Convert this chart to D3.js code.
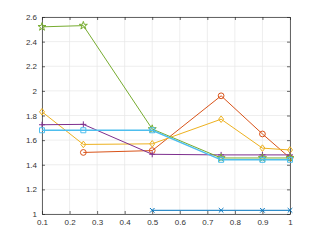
<!DOCTYPE html>
<html lang="en">
<head>
<meta charset="UTF-8">
<title>Chart</title>
<script src="https://d3js.org/d3.v7.min.js"></script>
<style>
  body { margin: 0; background: #fff; }
  svg text { font-family: "Liberation Sans", Arial, sans-serif; font-size: 8px; fill: #333; }
</style>
</head>
<body>
<div id="chart"></div>
<script>
const xTicks = [0.1, 0.2, 0.3, 0.4, 0.5, 0.6, 0.7, 0.8, 0.9, 1];
const yTicks = [1, 1.2, 1.4, 1.6, 1.8, 2, 2.2, 2.4, 2.6];

const blueX = [0.5, 0.75, 0.9, 1];
const blueY = [1.03, 1.03, 1.03, 1.03];
const orangeX = [0.25, 0.5, 0.75, 0.9, 1];
const orangeY = [1.50, 1.515, 1.96, 1.65, 1.455];
const yellowX = [0.1, 0.25, 0.5, 0.75, 0.9, 1];
const yellowY = [1.83, 1.565, 1.57, 1.77, 1.535, 1.52];
const purpleX = [0.1, 0.25, 0.5, 0.75, 0.9, 1];
const purpleY = [1.725, 1.728, 1.485, 1.48, 1.48, 1.48];
const greenX = [0.1, 0.25, 0.5, 0.75, 0.9, 1];
const greenY = [2.52, 2.53, 1.69, 1.455, 1.455, 1.455];
const cyanX = [0.1, 0.25, 0.5, 0.75, 0.9, 1];
const cyanY = [1.68, 1.68, 1.68, 1.44, 1.44, 1.44];

const series = [
  { xs: blueX, ys: blueY, color: "#0072BD", marker: "x" },
  { xs: orangeX, ys: orangeY, color: "#D95319", marker: "o" },
  { xs: yellowX, ys: yellowY, color: "#EDB120", marker: "d" },
  { xs: purpleX, ys: purpleY, color: "#7E2F8E", marker: "+" },
  { xs: greenX, ys: greenY, color: "#77AC30", marker: "p" },
  { xs: cyanX, ys: cyanY, color: "#4DBEEE", marker: "s" }
];

const W = 321, H = 241;
const margin = { top: 17, right: 31, bottom: 27, left: 42 };
const w = W - margin.left - margin.right;
const h = H - margin.top - margin.bottom;

const svg = d3.select("#chart").append("svg")
  .attr("width", W).attr("height", H);
const g = svg.append("g")
  .attr("transform", `translate(${margin.left},${margin.top})`);

const x = d3.scaleLinear().domain([0.1, 1]).range([0, w]);
const y = d3.scaleLinear().domain([1, 2.6]).range([h, 0]);

// grid
g.append("g").selectAll("line").data(xTicks).enter().append("line")
  .attr("x1", d => x(d)).attr("x2", d => x(d))
  .attr("y1", 0).attr("y2", h)
  .attr("stroke", "#e6e6e6").attr("stroke-width", 0.7);
g.append("g").selectAll("line").data(yTicks).enter().append("line")
  .attr("y1", d => y(d)).attr("y2", d => y(d))
  .attr("x1", 0).attr("x2", w)
  .attr("stroke", "#e6e6e6").attr("stroke-width", 0.7);

// axes (ticks inward, box)
const fmt = d => String(+d.toFixed(1));
function styleAxis(sel) {
  sel.select(".domain").attr("stroke", "#262626").attr("stroke-width", 0.7);
  sel.selectAll(".tick line").attr("stroke", "#262626").attr("stroke-width", 0.7);
}
g.append("g").attr("transform", `translate(0,${h})`)
  .call(d3.axisBottom(x).tickValues(xTicks).tickFormat(fmt).tickSizeInner(-3).tickSizeOuter(0).tickPadding(5))
  .call(styleAxis).selectAll("text").attr("fill", "#333");
g.append("g")
  .call(d3.axisLeft(y).tickValues(yTicks).tickFormat(fmt).tickSizeInner(-3).tickSizeOuter(0).tickPadding(5))
  .call(styleAxis).selectAll("text").attr("fill", "#333");
g.append("g")
  .call(d3.axisTop(x).tickValues(xTicks).tickFormat("").tickSizeInner(-3).tickSizeOuter(0))
  .call(styleAxis);
g.append("g").attr("transform", `translate(${w},0)`)
  .call(d3.axisRight(y).tickValues(yTicks).tickFormat("").tickSizeInner(-3).tickSizeOuter(0))
  .call(styleAxis);

// lines and markers
const line = d3.line().x(d => x(d[0])).y(d => y(d[1]));
const markerPath = {
  x: "M-2.3,-2.3L2.3,2.3M-2.3,2.3L2.3,-2.3",
  "+": "M-3,0L3,0M0,-3L0,3",
  o: d3.symbol(d3.symbolCircle, 26)(),
  d: "M0,-3.3L2.5,0L0,3.3L-2.5,0Z",
  s: "M-2.5,-2.5L2.5,-2.5L2.5,2.5L-2.5,2.5Z",
  p: d3.symbol(d3.symbolStar, 20)()
};
series.forEach(s => {
  const pts = s.xs.map((v, i) => [v, s.ys[i]]);
  g.append("path").datum(pts)
    .attr("d", line).attr("fill", "none")
    .attr("stroke", s.color).attr("stroke-width", s.marker === "s" ? 1.5 : 1);
  g.append("g").selectAll("path").data(pts).enter().append("path")
    .attr("transform", d => `translate(${x(d[0])},${y(d[1])})`)
    .attr("d", markerPath[s.marker])
    .attr("fill", "none").attr("stroke", s.color).attr("stroke-width", 1);
});
</script>
</body>
</html>
